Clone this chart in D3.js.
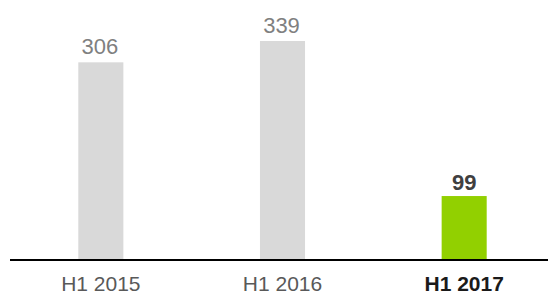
<!DOCTYPE html>
<html>
<head>
<meta charset="utf-8">
<script src="https://cdn.jsdelivr.net/npm/d3@7"></script>
<style>
html,body{margin:0;padding:0;background:#fff;}
svg{display:block;}
</style>
</head>
<body>
<svg id="chart" width="548" height="297"></svg>
<script>
const categories = ["H1 2015", "H1 2016", "H1 2017"];
const values = [306, 339, 99];
const highlight = [false, false, true];

const svg = d3.select("#chart");
const font = "'Liberation Sans', Arial, sans-serif";

const x = d3.scaleBand().domain(categories).range([10, 555]).paddingInner(0.752).paddingOuter(0.376);
const y = d3.scaleLinear().domain([0, 339]).range([260, 41]);

const data = categories.map((c, i) => ({c, v: values[i], h: highlight[i]}));

svg.selectAll("rect.bar").data(data).enter().append("rect")
  .attr("class", "bar")
  .attr("x", d => x(d.c))
  .attr("width", x.bandwidth())
  .attr("y", d => y(d.v))
  .attr("height", d => y(0) - y(d.v))
  .attr("fill", d => d.h ? "#92d000" : "#d9d9d9");

svg.selectAll("text.val").data(data).enter().append("text")
  .attr("class", "val")
  .attr("x", d => x(d.c) + x.bandwidth() / 2 - (d.h ? 0 : 1))
  .attr("y", d => y(d.v) - (d.h ? 6 : 8))
  .attr("text-anchor", "middle")
  .attr("font-family", font)
  .attr("font-size", 22)
  .attr("font-weight", d => d.h ? "bold" : "normal")
  .attr("fill", d => d.h ? "#404040" : "#808080")
  .text(d => d.v);

// axis
const axis = d3.axisBottom(x).tickSize(0).tickPadding(0);
const g = svg.append("g").attr("transform", `translate(0,${y(0)})`).call(axis);
g.select(".domain").attr("d", "M10,0H548").attr("stroke", "#000").attr("stroke-width", 2);
g.selectAll(".tick text")
  .attr("y", 31)
  .attr("dy", 0)
  .attr("font-family", font)
  .attr("font-size", 21)
  .attr("font-weight", (d, i) => highlight[i] ? "bold" : "normal")
  .attr("fill", (d, i) => highlight[i] ? "#1a1a1a" : "#595959");
</script>
</body>
</html>
